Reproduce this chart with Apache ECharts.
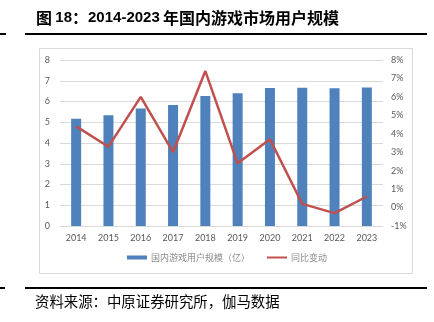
<!DOCTYPE html>
<html>
<head>
<meta charset="utf-8">
<script src="https://cdn.jsdelivr.net/npm/echarts@6/dist/echarts.min.js"></script>
<style>
html,body{margin:0;padding:0;background:#fff;}
#c{width:434px;height:322px;}
</style>
</head>
<body>
<div id="c"></div>
<script>
var years = ['2014','2015','2016','2017','2018','2019','2020','2021','2022','2023'];
var users = [5.17, 5.34, 5.66, 5.83, 6.26, 6.40, 6.65, 6.66, 6.64, 6.68];
var growth = [4.4, 3.3, 6.0, 3.0, 7.4, 2.4, 3.7, 0.2, -0.3, 0.6];
var barName = '国内游戏用户规模（亿）';
var lineName = '同比变动';

var chart = echarts.init(document.getElementById('c'), null, {renderer:'canvas'});
var labelFont = 'Lato, "Liberation Sans", sans-serif';
chart.setOption({
  animation:false,
  backgroundColor:'#fff',
  graphic:[
    {type:'rect', shape:{x:39.5,y:48.5,width:373,height:225}, style:{fill:'none',stroke:'#D9D9D9',lineWidth:1}, z:-1},
    {type:'rect', shape:{x:25,y:33,width:402,height:2}, style:{fill:'#000'}},
    {type:'rect', shape:{x:0,y:33,width:6,height:2}, style:{fill:'#000'}},
    {type:'rect', shape:{x:25,y:287,width:402,height:2}, style:{fill:'#000'}},
    {type:'rect', shape:{x:0,y:287,width:5,height:2}, style:{fill:'#000'}},
    {type:'text', left:36, top:10, style:{
      text:'{c|图} {d|18}{c|：}{d|2014-2023} {c|年国内游戏市场用户规模}',
      rich:{
        c:{fontSize:16, fontWeight:'bold', fontFamily:'"Noto Sans CJK SC"', fill:'#000'},
        d:{fontSize:15, fontWeight:'bold', fontFamily:'"Liberation Sans", Arial, sans-serif', fill:'#000'}
      }
    }},
    {type:'text', left:35, top:294, style:{
      text:'资料来源：中原证券研究所，伽马数据',
      fontSize:14.4, fontFamily:'"Noto Sans CJK SC"', fill:'#000'
    }}
  ],
  legend:{
    left:127, top:253, padding:0,
    itemGap:17, itemWidth:20, itemHeight:4,
    textStyle:{fontSize:9, color:'#8C8C8C', fontFamily:'"Noto Sans CJK SC"', padding:[0,0,0,-1]},
    data:[
      {name:barName, icon:'rect'},
      {name:lineName, icon:'path://M0,0L20,0L20,2L0,2Z', itemStyle:{color:'#C0504D'}}
    ]
  },
  grid:{left:60, right:51, top:60, bottom:96},
  xAxis:{
    type:'category', data:years,
    axisLine:{show:true, lineStyle:{color:'#D9D9D9'}},
    axisTick:{show:false},
    axisLabel:{color:'#595959', fontSize:9, margin:8, fontFamily:labelFont}
  },
  yAxis:[
    {type:'value', min:0, max:8, interval:1,
     axisLine:{show:false}, axisTick:{show:false},
     splitLine:{lineStyle:{color:'#D9D9D9'}},
     axisLabel:{color:'#595959', fontSize:9, margin:10, fontFamily:labelFont}},
    {type:'value', min:-1, max:8, interval:1, position:'right',
     axisLine:{show:false}, axisTick:{show:false},
     splitLine:{show:false},
     axisLabel:{color:'#595959', fontSize:9, margin:8, fontFamily:labelFont, formatter:'{value}%'}}
  ],
  series:[
    {name:barName, type:'bar', data:users, barWidth:10, itemStyle:{color:'#4F81BD'}},
    {name:lineName, type:'line', yAxisIndex:1, data:growth, symbol:'none',
     lineStyle:{color:'#C0504D', width:2.5}, itemStyle:{color:'#C0504D'}}
  ]
});
</script>
</body>
</html>
